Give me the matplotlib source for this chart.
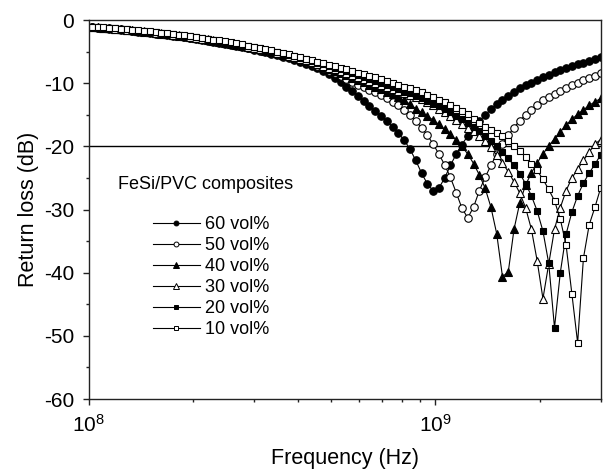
import numpy as np
import matplotlib
matplotlib.use("Agg")
import matplotlib.pyplot as plt
from matplotlib.lines import Line2D

plt.rcParams['font.family'] = ['Liberation Sans', 'DejaVu Sans']
plt.rcParams['mathtext.fontset'] = 'custom'
plt.rcParams['mathtext.rm'] = 'Liberation Sans'
plt.rcParams['mathtext.default'] = 'regular'
plt.rcParams['axes.unicode_minus'] = False

# frequency sweep (Hz), 89 log-spaced points
freq = np.geomspace(1.02e8, 3.0e9, 89)

# return loss (dB)
rl_60 = [-1.15, -1.21, -1.28, -1.36, -1.44, -1.52, -1.61, -1.70, -1.80, -1.90,
         -2.00, -2.11, -2.22, -2.34, -2.46, -2.58, -2.71, -2.84, -2.98, -3.12,
         -3.27, -3.42, -3.58, -3.75, -3.92, -4.10, -4.28, -4.47, -4.66, -4.86,
         -5.07, -5.29, -5.52, -5.8, -6.0, -6.3, -6.6, -6.9, -7.2, -7.6,
         -8.0, -8.5, -9.1, -9.8, -10.5, -11.2, -12.0, -12.8, -13.6, -14.4,
         -15.2, -16.0, -16.9, -17.9, -19.0, -20.4, -22.2, -24.2, -25.9, -27.0,
         -26.6, -25.0, -23.0, -21.2, -19.7, -18.3, -17.1, -16.0, -15.0, -14.1,
         -13.3, -12.6, -12.0, -11.4, -10.8, -10.3, -9.9, -9.4, -9.0, -8.6,
         -8.2, -7.9, -7.6, -7.3, -7.0, -6.7, -6.4, -6.2, -5.9]
rl_50 = [-1.10, -1.16, -1.23, -1.31, -1.39, -1.47, -1.56, -1.65, -1.74, -1.84,
         -1.94, -2.04, -2.15, -2.26, -2.38, -2.50, -2.62, -2.75, -2.89, -3.03,
         -3.17, -3.32, -3.48, -3.64, -3.81, -3.98, -4.16, -4.34, -4.53, -4.72,
         -4.92, -5.13, -5.35, -5.6, -5.8, -6.0, -6.3, -6.6, -6.9, -7.2,
         -7.6, -8.0, -8.4, -8.9, -9.3, -9.8, -10.2, -10.6, -11.0, -11.4,
         -11.9, -12.4, -12.9, -13.5, -14.2, -15.0, -16.0, -17.0, -18.2, -19.6,
         -21.2, -22.9, -24.9, -27.3, -29.8, -31.3, -29.6, -27.0, -24.9, -23.0,
         -21.2, -19.6, -18.2, -17.0, -15.9, -15.0, -14.2, -13.4, -12.7, -12.2,
         -11.7, -11.2, -10.7, -10.3, -9.9, -9.5, -9.2, -8.8, -8.4]
rl_40 = [-1.08, -1.14, -1.21, -1.28, -1.36, -1.44, -1.53, -1.62, -1.71, -1.80,
         -1.90, -2.00, -2.11, -2.22, -2.33, -2.45, -2.57, -2.70, -2.83, -2.97,
         -3.11, -3.26, -3.41, -3.57, -3.73, -3.90, -4.07, -4.25, -4.44, -4.63,
         -4.83, -5.04, -5.26, -5.5, -5.7, -5.9, -6.2, -6.4, -6.7, -7.0,
         -7.4, -7.7, -8.0, -8.4, -8.7, -9.1, -9.4, -9.8, -10.2, -10.5,
         -10.9, -11.3, -11.7, -12.1, -12.7, -13.3, -14.0, -14.6, -15.2, -15.8,
         -16.5, -17.3, -18.1, -19.0, -20.0, -21.2, -22.7, -24.5, -26.6, -29.6,
         -33.8, -40.6, -39.9, -33.1, -28.9, -26.1, -24.2, -22.6, -21.2, -19.9,
         -18.8, -17.7, -16.6, -15.7, -14.9, -14.2, -13.5, -12.9, -12.4]
rl_30 = [-1.06, -1.12, -1.19, -1.26, -1.34, -1.42, -1.50, -1.59, -1.68, -1.77,
         -1.87, -1.97, -2.07, -2.18, -2.29, -2.40, -2.52, -2.65, -2.78, -2.91,
         -3.05, -3.19, -3.34, -3.49, -3.65, -3.82, -3.99, -4.17, -4.35, -4.54,
         -4.74, -4.94, -5.16, -5.4, -5.6, -5.8, -6.1, -6.3, -6.6, -6.9,
         -7.2, -7.5, -7.8, -8.1, -8.4, -8.7, -9.0, -9.3, -9.6, -9.9,
         -10.2, -10.5, -10.9, -11.2, -11.6, -11.9, -12.2, -12.5, -12.9, -13.4,
         -14.0, -14.5, -15.1, -15.8, -16.4, -17.0, -17.6, -18.3, -19.2, -20.1,
         -21.4, -22.6, -24.0, -25.6, -27.4, -29.7, -33.1, -38.1, -44.1, -38.6,
         -33.1, -29.7, -27.0, -25.0, -23.6, -22.2, -20.9, -19.6, -18.9]
rl_20 = [-1.03, -1.09, -1.16, -1.23, -1.30, -1.38, -1.46, -1.55, -1.64, -1.73,
         -1.82, -1.92, -2.02, -2.12, -2.23, -2.34, -2.46, -2.58, -2.71, -2.84,
         -2.97, -3.11, -3.26, -3.41, -3.57, -3.73, -3.90, -4.08, -4.26, -4.45,
         -4.65, -4.85, -5.06, -5.3, -5.5, -5.7, -6.0, -6.2, -6.5, -6.7,
         -7.0, -7.3, -7.5, -7.8, -8.1, -8.4, -8.7, -9.0, -9.3, -9.6,
         -9.9, -10.2, -10.6, -10.9, -11.3, -11.6, -12.0, -12.4, -12.8, -13.2,
         -13.6, -14.1, -14.6, -15.2, -15.7, -16.3, -16.9, -17.6, -18.3, -19.1,
         -20.0, -20.9, -21.9, -23.0, -24.3, -25.9, -27.8, -30.2, -33.4, -38.5,
         -48.7, -40.0, -33.9, -30.4, -27.8, -25.8, -24.2, -22.8, -21.3]
rl_10 = [-1.00, -1.06, -1.13, -1.20, -1.27, -1.35, -1.43, -1.52, -1.60, -1.69,
         -1.78, -1.88, -1.98, -2.08, -2.19, -2.30, -2.41, -2.53, -2.66, -2.79,
         -2.92, -3.06, -3.20, -3.35, -3.51, -3.67, -3.84, -4.01, -4.19, -4.38,
         -4.57, -4.77, -4.98, -5.2, -5.4, -5.6, -5.85, -6.1, -6.3, -6.55,
         -6.8, -7.05, -7.3, -7.55, -7.8, -8.05, -8.3, -8.55, -8.8, -9.05,
         -9.3, -9.6, -9.9, -10.2, -10.5, -10.8, -11.1, -11.4, -11.8, -12.2,
         -12.6, -13.0, -13.4, -13.9, -14.4, -14.9, -15.6, -16.3, -16.9, -17.4,
         -17.9, -18.4, -19.1, -19.9, -20.7, -21.6, -22.7, -23.8, -25.2, -26.8,
         -28.6, -31.5, -35.6, -43.3, -51.1, -37.7, -32.4, -29.6, -26.5]

labels = ['60 vol%', '50 vol%', '40 vol%', '30 vol%', '20 vol%', '10 vol%']
series = [rl_60, rl_50, rl_40, rl_30, rl_20, rl_10]
markers = ['o', 'o', '^', '^', 's', 's']
filled = [True, False, True, False, True, False]
msizes = [5.4, 5.4, 6.0, 6.0, 5.0, 5.0]

fig = plt.figure(figsize=(6.05, 4.70), dpi=100)
ax = fig.add_axes([0.147, 0.151, 0.846, 0.806])

ax.axhline(-20, color='black', lw=1.0, zorder=1)

handles = []
for y, lab, m, f, ms in zip(series, labels, markers, filled, msizes):
    fc = 'black' if f else 'white'
    ax.plot(freq, y, color='black', lw=0.8, marker=m, ms=ms,
            mfc=fc, mec='black', mew=0.8, zorder=2)
    handles.append(Line2D([], [], color='black', lw=0.8, marker=m,
                          ms=ms * 0.65, mfc=fc, mec='black', mew=0.7))

ax.set_xscale('log')
ax.set_xlim(1e8, 3e9)
ax.set_ylim(-60, 0)
ax.set_xticks([1e8, 1e9])
ax.set_xticklabels([r'$10^{8}$', r'$10^{9}$'])
ax.set_xticks([2e8, 3e8, 4e8, 5e8, 6e8, 7e8, 8e8, 9e8, 2e9, 3e9], minor=True)
ax.set_xticklabels([], minor=True)
ax.set_yticks(np.arange(-60, 1, 10))
ax.set_yticks(np.arange(-55, 0, 10), minor=True)

for s in ax.spines.values():
    s.set_linewidth(1.0)
    s.set_color('#222222')
ax.tick_params(which='both', direction='out', top=False, right=False,
               color='#222222', width=1.0)
ax.tick_params(which='major', length=4.5, pad=6)
ax.tick_params(which='minor', length=2.5)
ax.tick_params(axis='y', labelsize=15)
ax.tick_params(axis='x', labelsize=15)

ax.set_xlabel('Frequency (Hz)', fontsize=15.5, labelpad=9)
ax.set_ylabel('Return loss (dB)', fontsize=15.5, labelpad=4)

ax.text(0.057, 0.565, 'FeSi/PVC composites', transform=ax.transAxes,
        fontsize=13, va='center', ha='left')
ax.legend(handles, labels, loc='upper left', bbox_to_anchor=(0.125, 0.482),
          frameon=False, fontsize=13, handlelength=2.6, handletextpad=0.3,
          labelspacing=0.22, borderpad=0, borderaxespad=0)

fig.savefig('out.png', dpi=100)
